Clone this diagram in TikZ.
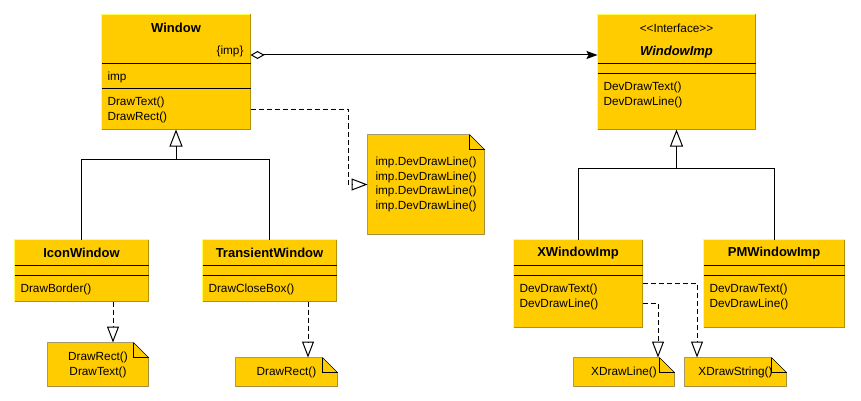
\documentclass[tikz,border=0pt]{standalone}
\usepackage{fontspec}
\setmainfont{Liberation Sans}
\usetikzlibrary{arrows.meta, backgrounds}
\definecolor{umlyellow}{HTML}{FFCC00}
\definecolor{umllight}{HTML}{FFFF55}
\definecolor{umldark}{HTML}{B39200}

\begin{document}
\begin{tikzpicture}[x=1pt, y=-1pt, line width=1pt,
  every node/.style={inner sep=0pt, font=\fontsize{11.8}{15}\selectfont},
  cls/.style={fill=umlyellow, draw=none},
  note/.style={align=center},
  title/.style={font=\fontsize{13}{15}\selectfont\bfseries},
  ops/.style={anchor=west, align=left},
  inh/.style={-{Triangle[open, length=17pt, width=13pt]}},
  real/.style={dash pattern=on 5pt off 3pt, -{Triangle[open, length=16pt, width=12pt]}},
  agg/.style={{Diamond[open, length=14pt, width=8pt]}-{Stealth[length=11pt, width=8pt, inset=2pt]}}]
            \useasboundingbox (0,0) rectangle (861,401);

            \node[cls, minimum width=148pt, minimum height=114pt] (window) at (176,72) {};
            \node[cls, minimum width=157pt, minimum height=114pt] (windowimp) at (676.5,72) {};
            \node[cls, minimum width=133pt, minimum height=61pt] (iconwin) at (81.5,270.5) {};
            \node[cls, minimum width=133pt, minimum height=61pt] (transwin) at (269.5,270.5) {};
            \node[cls, minimum width=128pt, minimum height=87pt] (xwinimp) at (578,283.5) {};
            \node[cls, minimum width=140pt, minimum height=87pt] (pmwinimp) at (774,283.5) {};

            \foreach \c in {window, windowimp, iconwin, transwin, xwinimp, pmwinimp} {
                \draw[umllight] (\c.south west) -- (\c.north west) -- (\c.north east);
                \draw[umldark] (\c.north east) -- (\c.south east) -- (\c.south west);
            }
            \draw (window.west |- 0,64) -- (window.east |- 0,64);
            \draw (window.west |- 0,89) -- (window.east |- 0,89);
            \draw (windowimp.west |- 0,64) -- (windowimp.east |- 0,64);
            \draw (windowimp.west |- 0,74) -- (windowimp.east |- 0,74);
            \foreach \c in {iconwin, transwin, xwinimp, pmwinimp} {
                \draw (\c.west |- 0,265) -- (\c.east |- 0,265);
                \draw (\c.west |- 0,275) -- (\c.east |- 0,275);
            }

            \node[title] (windowname) at (176,28) {Window};
            \node[anchor=east] (windowattr) at (244,51) {\{imp\}};
            \node[anchor=west] (windowvar) at (107,77) {imp};
            \node[ops] (windowops) at (107,109.5) {DrawText()\\DrawRect()};

            \node (stereo) at (676.5,28) {<\kern0pt<Interface>\kern0pt>};
            \node[font=\fontsize{13}{15}\selectfont\bfseries\itshape] (impname) at (676.5,52) {WindowImp};
            \node[ops] (impops) at (603,94.5) {DevDrawText()\\DevDrawLine()};

            \node[title] (iconname) at (81.5,253) {IconWindow};
            \node[ops] (iconops) at (20,289) {DrawBorder()};
            \node[title] (transname) at (269.5,253) {TransientWindow};
            \node[ops] (transops) at (208,289) {DrawCloseBox()};
            \node[title] (xname) at (578,253) {XWindowImp};
            \node[ops] (xops) at (519,296.5) {DevDrawText()\\DevDrawLine()};
            \node[title] (pmname) at (774,253) {PMWindowImp};
            \node[ops] (pmops) at (709,296.5) {DevDrawText()\\DevDrawLine()};

            \node[note, align=left, font=\fontsize{11.8}{14.5}\selectfont, minimum width=116pt, minimum height=99pt] (bignote) at (426,184.5) {imp.DevDrawLine()\\imp.DevDrawLine()\\imp.DevDrawLine()\\imp.DevDrawLine()};
            \node[note, minimum width=100pt, minimum height=43pt] (iconnote) at (98,364.5) {DrawRect()\\DrawText()};
            \node[note, minimum width=101pt, minimum height=28pt] (transnote) at (286.5,372) {DrawRect()};
            \node[note, minimum width=100pt, minimum height=28pt] (xlinenote) at (624,372) {XDrawLine()};
            \node[note, minimum width=101pt, minimum height=28pt] (xstringnote) at (735.5,372) {XDrawString()};

            \begin{scope}[on background layer]
                \foreach \n in {bignote, iconnote, transnote, xlinenote, xstringnote} {
                    \filldraw[fill=umlyellow] (\n.north west) -- ([xshift=-15pt]\n.north east) -- ([yshift=-15pt]\n.north east) -- (\n.south east) -- (\n.south west) -- cycle;
                    \draw ([xshift=-15pt]\n.north east) |- ([yshift=-15pt]\n.north east);
                }
            \end{scope}

            \draw[agg] ([yshift=17pt]window.east) -- ([yshift=17pt]windowimp.west);

            \coordinate (wjoin) at (176,159);
            \coordinate (ijoin) at (676.5,168);
            \draw (iconwin.north) |- (wjoin);
            \draw (transwin.north) |- (wjoin);
            \draw[inh] (wjoin) -- (window.south);
            \draw (xwinimp.north) |- (ijoin);
            \draw (pmwinimp.north) |- (ijoin);
            \draw[inh] (ijoin) -- (windowimp.south);

            \draw[real] (window.east |- windowops) -| ([xshift=-19pt]bignote.west) -- (bignote.west);
            \draw[real] ([xshift=31.5pt]iconwin.south) -- ([xshift=15pt]iconnote.north);
            \draw[real] ([xshift=38.5pt]transwin.south) -- ([xshift=21.5pt]transnote.north);
            \draw[real] (xwinimp.east) -| ([xshift=-38.5pt]xstringnote.north);
            \draw[real] ([yshift=-20pt]xwinimp.east) -| ([xshift=34pt]xlinenote.north);
        \end{tikzpicture}
\end{document}
